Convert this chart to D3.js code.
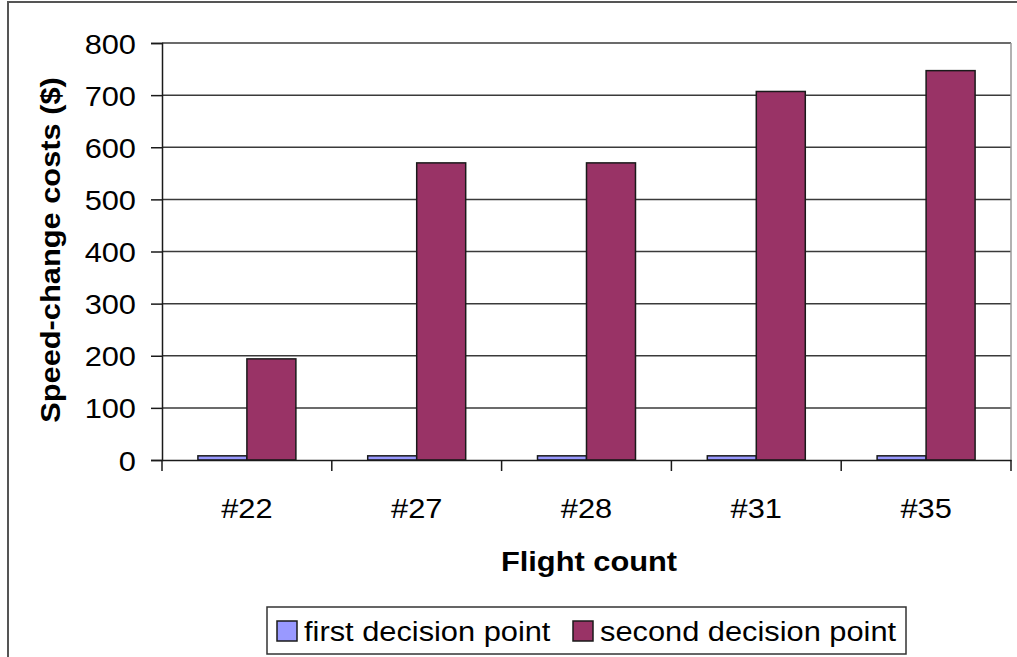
<!DOCTYPE html>
<html>
<head>
<meta charset="utf-8">
<script src="https://cdn.jsdelivr.net/npm/d3@7/dist/d3.min.js"></script>
<style>
  html, body { margin: 0; padding: 0; background: #fff; }
  svg { display: block; }
  text { font-family: "Liberation Sans", Arial, sans-serif; fill: #000; }
</style>
</head>
<body>
<svg id="chart" width="1017" height="657"></svg>
<script>
// Flight counts on the x axis
const categories = ["#22", "#27", "#28", "#31", "#35"];
// Speed-change cost ($) for each decision point
const firstDecision = [8, 8, 8, 8, 8];
const secondDecision = [194, 570, 570, 707, 747];
const seriesNames = ["first decision point", "second decision point"];
const seriesColors = ["#9999FF", "#993366"];
const yTicks = [0, 100, 200, 300, 400, 500, 600, 700, 800];

const svg = d3.select("#chart");
const plot = { left: 162, right: 1011, top: 43, bottom: 460 };
const fontSize = 28;
const stretch = 1.1; // glyphs are drawn slightly wide

// Outer chart frame (runs past the right and bottom edges)
svg.append("rect")
  .attr("x", 8).attr("y", 2)
  .attr("width", 1030).attr("height", 700)
  .attr("fill", "#fff").attr("stroke", "#555").attr("stroke-width", 2);

const x0 = d3.scaleBand().domain(categories).range([plot.left, plot.right]).padding(0);
const x1 = d3.scaleBand().domain(seriesNames).range([0, x0.bandwidth()])
  .paddingInner(0).paddingOuter(0.733);
const y = d3.scaleLinear().domain([0, 800]).range([plot.bottom, plot.top]);

// Horizontal gridlines
svg.append("g").selectAll("line").data(yTicks.filter(t => t > 0)).join("line")
  .attr("x1", plot.left).attr("x2", plot.right)
  .attr("y1", d => y(d)).attr("y2", d => y(d))
  .attr("stroke", "#3a3a3a").attr("stroke-width", 1.5);

// Right edge of plot area
svg.append("line")
  .attr("x1", plot.right).attr("x2", plot.right)
  .attr("y1", plot.top).attr("y2", plot.bottom)
  .attr("stroke", "#999").attr("stroke-width", 1.5);

// Bars
const rows = categories.map((c, i) => ({ cat: c, vals: [firstDecision[i], secondDecision[i]] }));
const groups = svg.append("g").selectAll("g").data(rows).join("g")
  .attr("transform", d => `translate(${x0(d.cat)},0)`);
groups.selectAll("rect").data(d => d.vals.map((v, j) => ({ v, j }))).join("rect")
  .attr("x", d => x1(seriesNames[d.j]))
  .attr("width", x1.bandwidth())
  .attr("y", d => y(d.v))
  .attr("height", d => y(0) - y(d.v))
  .attr("fill", d => seriesColors[d.j])
  .attr("stroke", "#1a1a1a").attr("stroke-width", 1.5);

// Y axis
const yAxis = d3.axisLeft(y).tickValues(yTicks).tickSize(11).tickPadding(0).tickFormat(d3.format("d"));
const gy = svg.append("g").attr("transform", `translate(${plot.left},0)`).call(yAxis);
gy.select(".domain").attr("stroke", "#1a1a1a").attr("stroke-width", 1.5);
gy.selectAll(".tick line").attr("stroke", "#1a1a1a").attr("stroke-width", 1.5);
gy.selectAll(".tick text")
  .attr("x", null).attr("dy", null)
  .attr("font-size", fontSize)
  .attr("text-anchor", "end")
  .attr("transform", `translate(-26,10) scale(${stretch},1)`)
  .style("font-family", "'Liberation Sans', Arial, sans-serif");

// X axis with ticks on category boundaries
const xAxis = d3.axisBottom(x0).tickSize(0).tickPadding(0);
const gx = svg.append("g").attr("transform", `translate(0,${plot.bottom})`).call(xAxis);
gx.select(".domain").attr("stroke", "#1a1a1a").attr("stroke-width", 1.5);
gx.selectAll(".tick text")
  .attr("y", null).attr("dy", null)
  .attr("font-size", fontSize)
  .attr("transform", `translate(0,58) scale(${stretch},1)`)
  .style("font-family", "'Liberation Sans', Arial, sans-serif");
const bounds = categories.map(c => x0(c)).concat([x0(categories[categories.length - 1]) + x0.bandwidth()]);
svg.append("g").selectAll("line").data(bounds).join("line")
  .attr("x1", d => d).attr("x2", d => d)
  .attr("y1", plot.bottom).attr("y2", plot.bottom + 11)
  .attr("stroke", "#1a1a1a").attr("stroke-width", 1.5);

// Axis titles
svg.append("text")
  .attr("transform", `translate(589,571) scale(${stretch},1)`)
  .attr("text-anchor", "middle")
  .attr("font-size", fontSize).attr("font-weight", "bold")
  .text("Flight count");
svg.append("text")
  .attr("transform", `translate(60,250) rotate(-90) scale(${stretch},1)`)
  .attr("text-anchor", "middle")
  .attr("font-size", fontSize).attr("font-weight", "bold")
  .text("Speed-change costs ($)");

// Legend
const lg = svg.append("g");
lg.append("rect").attr("x", 267).attr("y", 607).attr("width", 639).attr("height", 47)
  .attr("fill", "#fff").attr("stroke", "#333").attr("stroke-width", 1.5);
const legendX = [277, 573];
seriesNames.forEach((name, i) => {
  lg.append("rect").attr("x", legendX[i]).attr("y", 621).attr("width", 20).attr("height", 20)
    .attr("fill", seriesColors[i]).attr("stroke", "#1a1a1a").attr("stroke-width", 1.5);
  lg.append("text")
    .attr("transform", `translate(${legendX[i] + 27},641) scale(${stretch},1)`)
    .attr("font-size", fontSize)
    .text(name);
});
</script>
</body>
</html>
